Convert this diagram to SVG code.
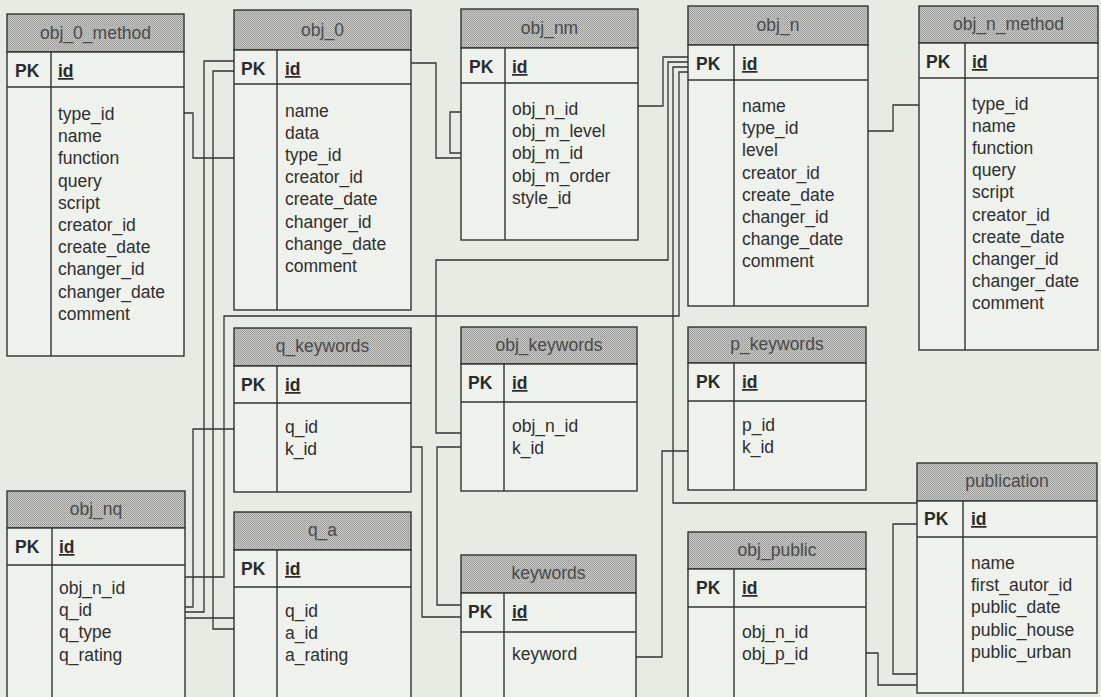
<svg xmlns="http://www.w3.org/2000/svg" width="1101" height="697" viewBox="0 0 1101 697">
<defs>
<pattern id="dots" width="2" height="2" patternUnits="userSpaceOnUse">
<rect width="2" height="2" fill="#c9c9c7"/>
<rect width="1" height="1" fill="#979795"/>
<rect x="1" y="1" width="1" height="1" fill="#a4a4a2"/>
</pattern>
</defs>
<style>
.hd{fill:url(#dots);stroke:#333;stroke-width:1.4}
.bd{fill:#eef1ec;stroke:#333;stroke-width:1.4}
.ln{stroke:#333;stroke-width:1.4}
.t{font-family:"Liberation Sans",Arial,sans-serif;font-size:17.5px;fill:#4a4a4a;text-anchor:middle}
.pk{font-family:"Liberation Sans",Arial,sans-serif;font-size:17.5px;font-weight:bold;fill:#2b2b2b}
.id{font-family:"Liberation Sans",Arial,sans-serif;font-size:17.5px;font-weight:bold;fill:#2b2b2b;text-decoration:underline}
.f{font-family:"Liberation Sans",Arial,sans-serif;font-size:17.5px;fill:#2f2f2f}
.c{fill:none;stroke:#333;stroke-width:1.3}
</style>
<rect width="1101" height="697" fill="#e7ebe4"/>

<g id="connectors">
<path class="c" d="M184,113 H193 V158 H234"/>
<path class="c" d="M234,61 H204 V612 H185"/>
<path class="c" d="M234,71 H213 V629 H234"/>
<path class="c" d="M234,429 H193 V607 H185"/>
<path class="c" d="M185,618 H234"/>
<path class="c" d="M185,577 H224 V316 H679 V72 H688"/>
<path class="c" d="M411,63 H436 V158 H461"/>
<path class="c" d="M461,112 H450 V153 H461"/>
<path class="c" d="M638,106 H663 V57 H688"/>
<path class="c" d="M461,433 H436 V260 H668 V62 H688"/>
<path class="c" d="M461,447 H437 V605 H461"/>
<path class="c" d="M411,447 H422 V617 H461"/>
<path class="c" d="M636,657 H662 V451 H688"/>
<path class="c" d="M688,67 H673 V503 H917"/>
<path class="c" d="M868,131 H893 V105 H919"/>
<path class="c" d="M917,524 H893 V674 H917"/>
<path class="c" d="M866,653 H878 V685 H917"/>
</g>

<g id="obj_0_method">
<rect class="hd" x="7" y="14" width="177" height="38"/>
<rect class="bd" x="7" y="52" width="177" height="304"/>
<line class="ln" x1="7" y1="87" x2="184" y2="87"/>
<line class="ln" x1="51" y1="52" x2="51" y2="356"/>
<text class="t" x="95.5" y="38.5">obj_0_method</text>
<text class="pk" x="15" y="77">PK</text>
<text class="id" x="58" y="77">id</text>
<text class="f" y="120"><tspan x="58">type_id</tspan><tspan x="58" dy="22.2">name</tspan><tspan x="58" dy="22.2">function</tspan><tspan x="58" dy="22.2">query</tspan><tspan x="58" dy="22.2">script</tspan><tspan x="58" dy="22.2">creator_id</tspan><tspan x="58" dy="22.2">create_date</tspan><tspan x="58" dy="22.2">changer_id</tspan><tspan x="58" dy="22.2">changer_date</tspan><tspan x="58" dy="22.2">comment</tspan></text>
</g>

<g id="obj_0">
<rect class="hd" x="234" y="10" width="177" height="40"/>
<rect class="bd" x="234" y="50" width="177" height="260"/>
<line class="ln" x1="234" y1="84" x2="411" y2="84"/>
<line class="ln" x1="277" y1="50" x2="277" y2="310"/>
<text class="t" x="322.5" y="36">obj_0</text>
<text class="pk" x="241" y="75">PK</text>
<text class="id" x="285" y="75">id</text>
<text class="f" y="116.5"><tspan x="285">name</tspan><tspan x="285" dy="22.2">data</tspan><tspan x="285" dy="22.2">type_id</tspan><tspan x="285" dy="22.2">creator_id</tspan><tspan x="285" dy="22.2">create_date</tspan><tspan x="285" dy="22.2">changer_id</tspan><tspan x="285" dy="22.2">change_date</tspan><tspan x="285" dy="22.2">comment</tspan></text>
</g>

<g id="obj_nm">
<rect class="hd" x="461" y="9" width="177" height="39"/>
<rect class="bd" x="461" y="48" width="177" height="192"/>
<line class="ln" x1="461" y1="83" x2="638" y2="83"/>
<line class="ln" x1="505" y1="48" x2="505" y2="240"/>
<text class="t" x="549.5" y="34">obj_nm</text>
<text class="pk" x="469" y="73">PK</text>
<text class="id" x="512" y="73">id</text>
<text class="f" y="115"><tspan x="512">obj_n_id</tspan><tspan x="512" dy="22.2">obj_m_level</tspan><tspan x="512" dy="22.2">obj_m_id</tspan><tspan x="512" dy="22.2">obj_m_order</tspan><tspan x="512" dy="22.2">style_id</tspan></text>
</g>

<g id="obj_n">
<rect class="hd" x="688" y="6" width="180" height="39"/>
<rect class="bd" x="688" y="45" width="180" height="261"/>
<line class="ln" x1="688" y1="80" x2="868" y2="80"/>
<line class="ln" x1="734" y1="45" x2="734" y2="306"/>
<text class="t" x="778" y="31">obj_n</text>
<text class="pk" x="696" y="70">PK</text>
<text class="id" x="742" y="70">id</text>
<text class="f" y="112"><tspan x="742">name</tspan><tspan x="742" dy="22.2">type_id</tspan><tspan x="742" dy="22.2">level</tspan><tspan x="742" dy="22.2">creator_id</tspan><tspan x="742" dy="22.2">create_date</tspan><tspan x="742" dy="22.2">changer_id</tspan><tspan x="742" dy="22.2">change_date</tspan><tspan x="742" dy="22.2">comment</tspan></text>
</g>

<g id="obj_n_method">
<rect class="hd" x="919" y="6" width="179" height="37"/>
<rect class="bd" x="919" y="43" width="179" height="307"/>
<line class="ln" x1="919" y1="78" x2="1098" y2="78"/>
<line class="ln" x1="965" y1="43" x2="965" y2="350"/>
<text class="t" x="1008.5" y="30">obj_n_method</text>
<text class="pk" x="926" y="68">PK</text>
<text class="id" x="972" y="68">id</text>
<text class="f" y="109.5"><tspan x="972">type_id</tspan><tspan x="972" dy="22.2">name</tspan><tspan x="972" dy="22.2">function</tspan><tspan x="972" dy="22.2">query</tspan><tspan x="972" dy="22.2">script</tspan><tspan x="972" dy="22.2">creator_id</tspan><tspan x="972" dy="22.2">create_date</tspan><tspan x="972" dy="22.2">changer_id</tspan><tspan x="972" dy="22.2">changer_date</tspan><tspan x="972" dy="22.2">comment</tspan></text>
</g>

<g id="q_keywords">
<rect class="hd" x="234" y="328" width="177" height="38"/>
<rect class="bd" x="234" y="366" width="177" height="126"/>
<line class="ln" x1="234" y1="403" x2="411" y2="403"/>
<line class="ln" x1="277" y1="366" x2="277" y2="492"/>
<text class="t" x="322.5" y="352">q_keywords</text>
<text class="pk" x="241" y="391">PK</text>
<text class="id" x="285" y="391">id</text>
<text class="f" y="433"><tspan x="285">q_id</tspan><tspan x="285" dy="22.2">k_id</tspan></text>
</g>

<g id="obj_keywords">
<rect class="hd" x="461" y="327" width="176" height="37"/>
<rect class="bd" x="461" y="364" width="176" height="127"/>
<line class="ln" x1="461" y1="402" x2="637" y2="402"/>
<line class="ln" x1="504" y1="364" x2="504" y2="491"/>
<text class="t" x="549" y="351">obj_keywords</text>
<text class="pk" x="468" y="389">PK</text>
<text class="id" x="512" y="389">id</text>
<text class="f" y="432"><tspan x="512">obj_n_id</tspan><tspan x="512" dy="22.2">k_id</tspan></text>
</g>

<g id="p_keywords">
<rect class="hd" x="688" y="327" width="178" height="36"/>
<rect class="bd" x="688" y="363" width="178" height="127"/>
<line class="ln" x1="688" y1="401" x2="866" y2="401"/>
<line class="ln" x1="734" y1="363" x2="734" y2="490"/>
<text class="t" x="777" y="350">p_keywords</text>
<text class="pk" x="696" y="388">PK</text>
<text class="id" x="742" y="388">id</text>
<text class="f" y="431"><tspan x="742">p_id</tspan><tspan x="742" dy="22.2">k_id</tspan></text>
</g>

<g id="obj_nq">
<rect class="hd" x="7" y="491" width="178" height="37"/>
<rect class="bd" x="7" y="528" width="178" height="180"/>
<line class="ln" x1="7" y1="565" x2="185" y2="565"/>
<line class="ln" x1="52" y1="528" x2="52" y2="708"/>
<text class="t" x="96" y="515">obj_nq</text>
<text class="pk" x="15" y="553">PK</text>
<text class="id" x="59" y="553">id</text>
<text class="f" y="594"><tspan x="59">obj_n_id</tspan><tspan x="59" dy="22.2">q_id</tspan><tspan x="59" dy="22.2">q_type</tspan><tspan x="59" dy="22.2">q_rating</tspan></text>
</g>

<g id="q_a">
<rect class="hd" x="234" y="512" width="177" height="38"/>
<rect class="bd" x="234" y="550" width="177" height="158"/>
<line class="ln" x1="234" y1="587" x2="411" y2="587"/>
<line class="ln" x1="277" y1="550" x2="277" y2="708"/>
<text class="t" x="322.5" y="536">q_a</text>
<text class="pk" x="241" y="575">PK</text>
<text class="id" x="285" y="575">id</text>
<text class="f" y="617"><tspan x="285">q_id</tspan><tspan x="285" dy="22.2">a_id</tspan><tspan x="285" dy="22.2">a_rating</tspan></text>
</g>

<g id="keywords">
<rect class="hd" x="461" y="555" width="175" height="38"/>
<rect class="bd" x="461" y="593" width="175" height="115"/>
<line class="ln" x1="461" y1="632" x2="636" y2="632"/>
<line class="ln" x1="504" y1="593" x2="504" y2="708"/>
<text class="t" x="548.5" y="579">keywords</text>
<text class="pk" x="468" y="618">PK</text>
<text class="id" x="512" y="618">id</text>
<text class="f" x="512" y="660">keyword</text>
</g>

<g id="obj_public">
<rect class="hd" x="688" y="532" width="178" height="37"/>
<rect class="bd" x="688" y="569" width="178" height="139"/>
<line class="ln" x1="688" y1="607" x2="866" y2="607"/>
<line class="ln" x1="734" y1="569" x2="734" y2="708"/>
<text class="t" x="777" y="556">obj_public</text>
<text class="pk" x="696" y="594">PK</text>
<text class="id" x="742" y="594">id</text>
<text class="f" y="638"><tspan x="742">obj_n_id</tspan><tspan x="742" dy="22.2">obj_p_id</tspan></text>
</g>

<g id="publication">
<rect class="hd" x="917" y="463" width="180" height="38"/>
<rect class="bd" x="917" y="501" width="180" height="192"/>
<line class="ln" x1="917" y1="537" x2="1097" y2="537"/>
<line class="ln" x1="963" y1="501" x2="963" y2="693"/>
<text class="t" x="1007" y="487">publication</text>
<text class="pk" x="924" y="525">PK</text>
<text class="id" x="971" y="525">id</text>
<text class="f" y="569"><tspan x="971">name</tspan><tspan x="971" dy="22.2">first_autor_id</tspan><tspan x="971" dy="22.2">public_date</tspan><tspan x="971" dy="22.2">public_house</tspan><tspan x="971" dy="22.2">public_urban</tspan></text>
</g>
</svg>
